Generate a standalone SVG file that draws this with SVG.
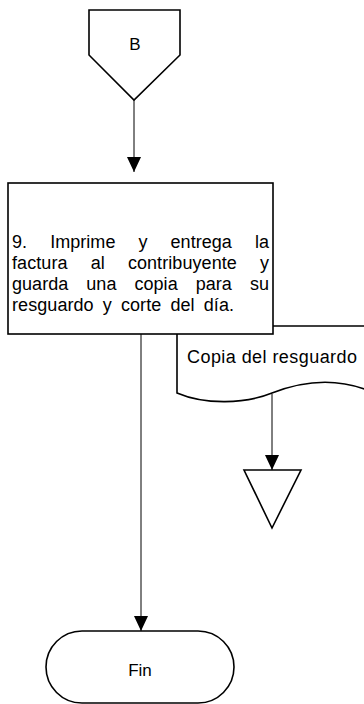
<svg xmlns="http://www.w3.org/2000/svg" width="364" height="704" viewBox="0 0 364 704">
<style>
.shape{fill:#fff;stroke:#000;stroke-width:1.6}
.conn{fill:none;stroke:#000;stroke-width:1}
.lbl{font-family:"Liberation Sans",Arial,sans-serif;font-size:17px;fill:#000;text-anchor:middle}
.txt{font-family:"Liberation Sans",Arial,sans-serif;font-size:18px;fill:#000}
</style>
<defs>
<marker id="arr" markerUnits="userSpaceOnUse" markerWidth="16" markerHeight="16" viewBox="0 0 16 16" refX="15" refY="8" orient="auto">
<path d="M0,1 L15,8 L0,15 Z" fill="#000"/>
</marker>
</defs>
<rect width="364" height="704" fill="#fff"/>
<g id="doc-copia">
<path class="shape" d="M177,326 H372 V392 C335,376 300,382 272,393 C245,404 205,405 177,393 Z"/>
<text class="txt" x="187" y="363" textLength="170" lengthAdjust="spacing">Copia del resguardo</text>
</g>
<g id="connectors">
<line class="conn" x1="134" y1="100" x2="134" y2="172" marker-end="url(#arr)"/>
<line class="conn" x1="141" y1="334" x2="141" y2="631" marker-end="url(#arr)"/>
<line class="conn" x1="272" y1="394" x2="272" y2="470" marker-end="url(#arr)"/>
</g>
<g id="offpage-B">
<polygon class="shape" points="89,10 180,10 180,55 134,100 89,55"/>
<text class="lbl" x="135" y="50">B</text>
</g>
<g id="step9">
<rect class="shape" x="8" y="183" width="265" height="151"/>
<text class="txt" x="12" y="248" word-spacing="18" textLength="257" lengthAdjust="spacing">9. Imprime y entrega la</text>
<text class="txt" x="12" y="269" word-spacing="18" textLength="257" lengthAdjust="spacing">factura al contribuyente y</text>
<text class="txt" x="12" y="290" word-spacing="13" textLength="257" lengthAdjust="spacing">guarda una copia para su</text>
<text class="txt" x="12" y="311" word-spacing="4" textLength="222" lengthAdjust="spacing">resguardo y corte del día.</text>
</g>
<g id="merge">
<polygon class="shape" points="244,470 301,470 272,528"/>
</g>
<g id="fin">
<rect class="shape" x="46" y="631" width="188" height="72" rx="36" ry="36"/>
<text class="lbl" x="140" y="676">Fin</text>
</g>
</svg>
